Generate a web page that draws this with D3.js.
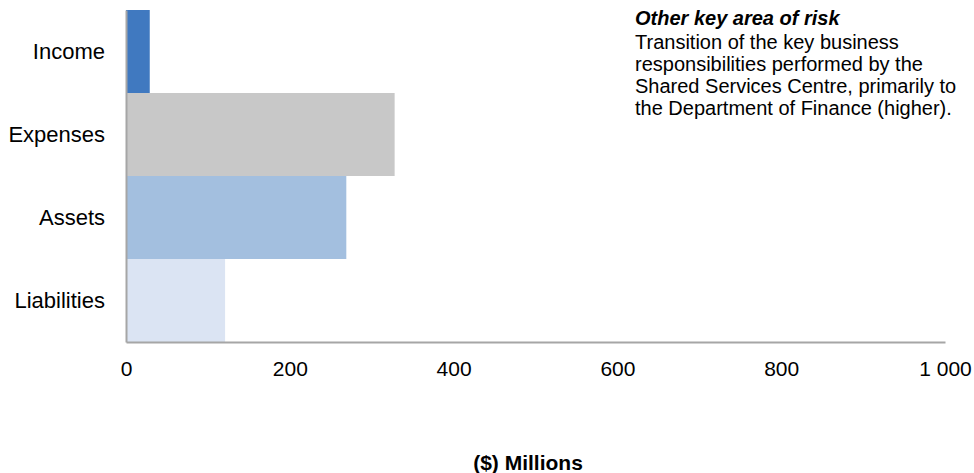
<!DOCTYPE html>
<html>
<head>
<meta charset="utf-8">
<script src="https://cdn.jsdelivr.net/npm/d3@7"></script>
<style>
  html, body { margin: 0; padding: 0; background: #fff; }
  svg { display: block; font-family: "Liberation Sans", Arial, sans-serif; }
</style>
</head>
<body>
<svg id="chart" width="974" height="473"></svg>
<script>
// Financial categories and their values in $ millions
const categories = ["Income", "Expenses", "Assets", "Liabilities"];
const values = [29, 328, 269, 121];
const barColors = ["#4079C0", "#C8C8C8", "#A3BFDF", "#DBE4F3"];
const xTicks = [0, 200, 400, 600, 800, 1000];
const xTickLabels = ["0", "200", "400", "600", "800", "1 000"];
const axisTitle = "($) Millions";
const noteTitle = "Other key area of risk";
const noteLines = [
  "Transition of the key business",
  "responsibilities performed by the",
  "Shared Services Centre, primarily to",
  "the Department of Finance (higher)."
];

const svg = d3.select("#chart");
const margin = { left: 126, right: 29, top: 10, bottom: 131 };
const W = 974, H = 473;
const FONT = "'Liberation Sans', Arial, sans-serif";

const x = d3.scaleLinear().domain([0, 1000]).range([margin.left, W - margin.right]);
const y = d3.scaleBand().domain(categories).range([margin.top, H - margin.bottom]).padding(0);

// Bars
svg.append("g").selectAll("rect")
  .data(categories)
  .join("rect")
  .attr("x", x(0))
  .attr("y", d => y(d))
  .attr("width", (d, i) => x(values[i]) - x(0))
  .attr("height", y.bandwidth())
  .attr("fill", (d, i) => barColors[i]);

// X axis: baseline plus tick labels, no tick marks
const xAxis = svg.append("g")
  .attr("transform", `translate(0,${H - margin.bottom})`)
  .call(d3.axisBottom(x).tickValues(xTicks)
    .tickFormat((d, i) => xTickLabels[i]).tickSize(0).tickPadding(19));
xAxis.select(".domain").attr("stroke", "#A6A6A6").attr("stroke-width", 2);
xAxis.selectAll("text").attr("font-size", 21).attr("fill", "#000").attr("font-family", FONT);

// Y axis: category labels
const yAxis = svg.append("g")
  .attr("transform", `translate(${margin.left},0)`)
  .call(d3.axisLeft(y).tickSize(0).tickPadding(21));
yAxis.select(".domain").attr("stroke", "#A6A6A6").attr("stroke-width", 2);
yAxis.selectAll("text").attr("font-size", 22).attr("fill", "#000").attr("font-family", FONT);

// Axis title, centred under the plot area
svg.append("text")
  .attr("x", 528).attr("y", 470)
  .attr("text-anchor", "middle")
  .attr("font-size", 21).attr("font-weight", "bold")
  .text(axisTitle);

// Note block
const note = svg.append("text").attr("x", 635).attr("y", 25).attr("font-size", 20);
note.append("tspan").attr("x", 635).attr("font-weight", "bold").attr("font-style", "italic").text(noteTitle);
noteLines.forEach((t, i) => {
  note.append("tspan").attr("x", 635).attr("dy", i === 0 ? 23.5 : 22.3).text(t);
});
</script>
</body>
</html>
